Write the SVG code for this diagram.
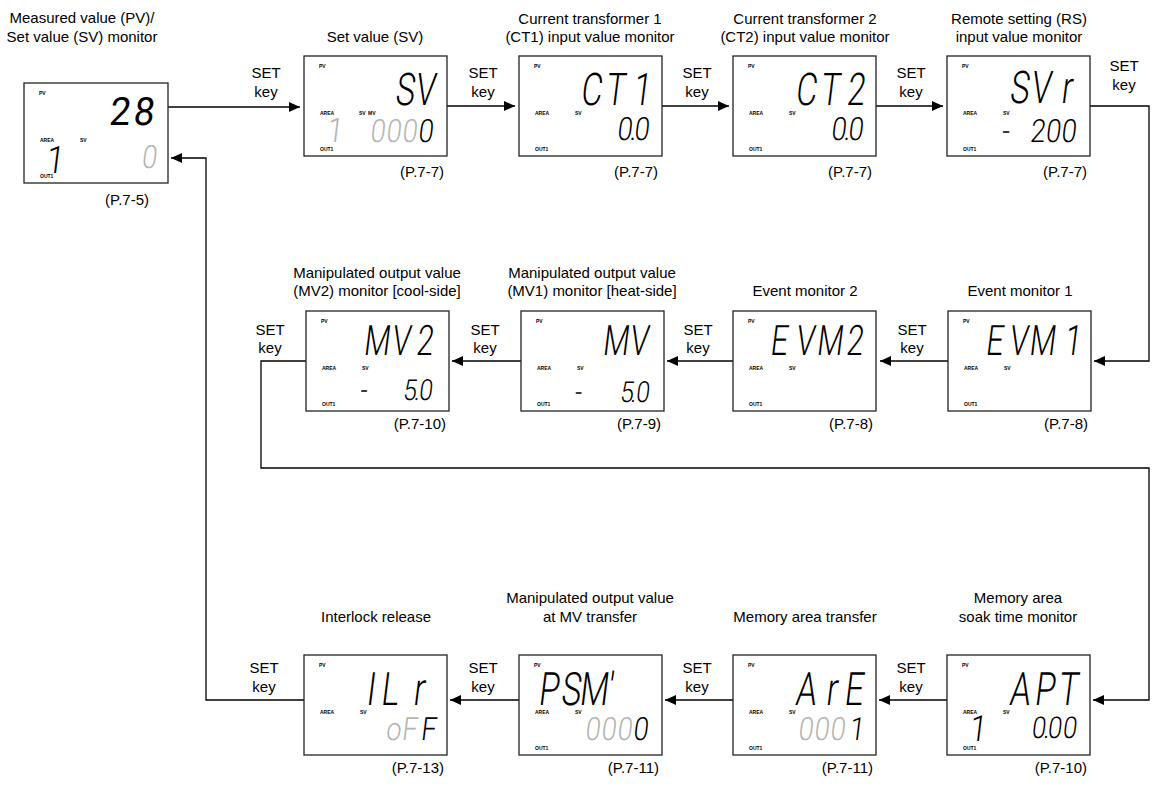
<svg xmlns="http://www.w3.org/2000/svg" width="1154" height="785" viewBox="0 0 1154 785">
<style>
.t{font-family:"Liberation Sans",Arial,sans-serif;font-size:15px;fill:#000}
.m{text-anchor:middle}
.e{text-anchor:end}
.lab{font-family:"Liberation Sans",Arial,sans-serif;font-size:5px;font-weight:bold;fill:#000}
.seg{font-family:Roboto,"DejaVu Sans",sans-serif;font-weight:300;fill:#000;text-anchor:middle}
.up{font-size:45px}
.lo{font-size:32px}
.gr{fill:#b4b4b4}
.box{fill:#fff;stroke:#222;stroke-width:1.3}
.conn{fill:none;stroke:#000;stroke-width:1.3}
</style>
<defs>
<marker id="ah" markerUnits="userSpaceOnUse" markerWidth="12" markerHeight="10" refX="11" refY="5" orient="auto">
<path d="M0,0 L11,5 L0,10 z" fill="#000"/>
</marker>
</defs>
<rect width="1154" height="785" fill="#fff"/>

<g id="connectors">
<path class="conn" marker-end="url(#ah)" d="M168,107 H300"/>
<path class="conn" marker-end="url(#ah)" d="M447,106 H515"/>
<path class="conn" marker-end="url(#ah)" d="M662,106 H729"/>
<path class="conn" marker-end="url(#ah)" d="M876,106 H943"/>
<path class="conn" marker-end="url(#ah)" d="M1090,106 H1149 V361 H1094"/>
<path class="conn" marker-end="url(#ah)" d="M948,361 H880"/>
<path class="conn" marker-end="url(#ah)" d="M733,361 H667"/>
<path class="conn" marker-end="url(#ah)" d="M521,361 H452"/>
<path class="conn" marker-end="url(#ah)" d="M306,361 H261 V468 H1149 V700 H1093"/>
<path class="conn" marker-end="url(#ah)" d="M947,700 H879"/>
<path class="conn" marker-end="url(#ah)" d="M733,700 H665"/>
<path class="conn" marker-end="url(#ah)" d="M519,700 H450"/>
<path class="conn" marker-end="url(#ah)" d="M304,700 H206 V158 H171"/>
<text class="t m" x="266" y="78">SET</text><text class="t m" x="266" y="97">key</text>
<text class="t m" x="483" y="78">SET</text><text class="t m" x="483" y="97">key</text>
<text class="t m" x="697" y="78">SET</text><text class="t m" x="697" y="97">key</text>
<text class="t m" x="911" y="78">SET</text><text class="t m" x="911" y="97">key</text>
<text class="t m" x="1124" y="71">SET</text><text class="t m" x="1124" y="90">key</text>
<text class="t m" x="912" y="335">SET</text><text class="t m" x="912" y="353">key</text>
<text class="t m" x="698" y="335">SET</text><text class="t m" x="698" y="353">key</text>
<text class="t m" x="485" y="335">SET</text><text class="t m" x="485" y="353">key</text>
<text class="t m" x="270" y="335">SET</text><text class="t m" x="270" y="353">key</text>
<text class="t m" x="911" y="673">SET</text><text class="t m" x="911" y="692">key</text>
<text class="t m" x="697" y="673">SET</text><text class="t m" x="697" y="692">key</text>
<text class="t m" x="483" y="673">SET</text><text class="t m" x="483" y="692">key</text>
<text class="t m" x="264" y="673">SET</text><text class="t m" x="264" y="692">key</text>
</g>

<g id="n-pv-sv">
<text class="t m" x="82" y="23">Measured value (PV)/</text>
<text class="t m" x="82" y="42">Set value (SV) monitor</text>
<text class="t e" x="149" y="205">(P.7-5)</text>
<g transform="translate(24,83)">
<rect class="box" width="144" height="100"/>
<text class="lab" x="15" y="12">PV</text><text class="lab" x="16" y="59">AREA</text><text class="lab" x="56" y="59">SV</text><text class="lab" x="16" y="95">OUT1</text>
<text class="seg" style="font-size:39px;font-weight:400" transform="translate(0,42) skewX(-7) scale(0.95,1)" x="100 125.3">28</text>
<text class="seg" style="font-size:38px" transform="translate(0,90) skewX(-7) scale(0.85,1)" x="35.3">1</text>
<text class="seg lo gr" transform="translate(0,85) skewX(-7) scale(0.85,1)" x="146.5">0</text>
</g>
</g>

<g id="n-sv">
<text class="t m" x="375" y="42">Set value (SV)</text>
<text class="t e" x="444" y="177">(P.7-7)</text>
<g transform="translate(304,56)">
<rect class="box" width="143" height="100"/>
<text class="lab" x="15" y="12">PV</text><text class="lab" x="16" y="59">AREA</text><text class="lab" x="55" y="59">SV</text><text class="lab" x="64" y="59">MV</text><text class="lab" x="16" y="95">OUT1</text>
<text class="seg up" transform="translate(0,49) skewX(-7) scale(0.72,1)" x="139 167">SV</text>
<text class="seg lo gr" style="font-size:34px" transform="translate(0,86) skewX(-7) scale(0.85,1)" x="35.3">1</text>
<text class="seg lo" transform="translate(0,86) skewX(-7) scale(0.85,1)"><tspan class="gr" x="85.9 104.7 123.5">000</tspan><tspan x="142.4">0</tspan></text>
</g>
</g>

<g id="n-ct1">
<text class="t m" x="590" y="24">Current transformer 1</text>
<text class="t m" x="590" y="42">(CT1) input value monitor</text>
<text class="t e" x="658" y="177">(P.7-7)</text>
<g transform="translate(519,56)">
<rect class="box" width="143" height="100"/>
<text class="lab" x="15" y="12">PV</text><text class="lab" x="16" y="59">AREA</text><text class="lab" x="56" y="59">SV</text><text class="lab" x="16" y="95">OUT1</text>
<text class="seg up" transform="translate(0,49) skewX(-7) scale(0.72,1)" x="99.5 132.5 169.4">CT1</text>
<text class="seg lo" transform="translate(0,84) skewX(-7) scale(0.85,1)" x="123.5 133.5 143.5">0.0</text>
</g>
</g>

<g id="n-ct2">
<text class="t m" x="805" y="24">Current transformer 2</text>
<text class="t m" x="805" y="42">(CT2) input value monitor</text>
<text class="t e" x="872" y="177">(P.7-7)</text>
<g transform="translate(733,56)">
<rect class="box" width="143" height="100"/>
<text class="lab" x="15" y="12">PV</text><text class="lab" x="16" y="59">AREA</text><text class="lab" x="56" y="59">SV</text><text class="lab" x="16" y="95">OUT1</text>
<text class="seg up" transform="translate(0,49) skewX(-7) scale(0.72,1)" x="100.5 133.5 169.4">CT2</text>
<text class="seg lo" transform="translate(0,84) skewX(-7) scale(0.85,1)" x="123.5 133.5 143.5">0.0</text>
</g>
</g>

<g id="n-rs">
<text class="t m" x="1019" y="24">Remote setting (RS)</text>
<text class="t m" x="1019" y="42">input value monitor</text>
<text class="t e" x="1087" y="177">(P.7-7)</text>
<g transform="translate(947,56)">
<rect class="box" width="143" height="100"/>
<text class="lab" x="15" y="12">PV</text><text class="lab" x="16" y="59">AREA</text><text class="lab" x="56" y="59">SV</text><text class="lab" x="16" y="95">OUT1</text>
<text class="seg up" transform="translate(0,47) skewX(-7) scale(0.72,1)" x="99.3 129.2 165.3">SVr</text>
<text class="seg lo" transform="translate(0,86) skewX(-7) scale(0.85,1)" x="68.2 82.4 105.9 124.1 142.4">- 200</text>
</g>
</g>

<g id="n-ev1">
<text class="t m" x="1020" y="296">Event monitor 1</text>
<text class="t e" x="1088" y="429">(P.7-8)</text>
<g transform="translate(948,311)">
<rect class="box" width="143" height="100"/>
<text class="lab" x="15" y="12">PV</text><text class="lab" x="16" y="59">AREA</text><text class="lab" x="56" y="59">SV</text><text class="lab" x="16" y="95">OUT1</text>
<text class="seg up" style="font-size:42px" transform="translate(0,44) skewX(-7) scale(0.72,1)" x="63.2 96.5 129.9 172.2">EVM1</text>
</g>
</g>

<g id="n-ev2">
<text class="t m" x="805" y="296">Event monitor 2</text>
<text class="t e" x="873" y="429">(P.7-8)</text>
<g transform="translate(733,311)">
<rect class="box" width="143" height="100"/>
<text class="lab" x="15" y="12">PV</text><text class="lab" x="16" y="59">AREA</text><text class="lab" x="56" y="59">SV</text><text class="lab" x="16" y="95">OUT1</text>
<text class="seg up" style="font-size:42px" transform="translate(0,44) skewX(-7) scale(0.72,1)" x="62.5 98.6 133.3 168">EVM2</text>
</g>
</g>

<g id="n-mv1">
<text class="t m" x="592" y="278">Manipulated output value</text>
<text class="t m" x="592" y="296">(MV1) monitor [heat-side]</text>
<text class="t e" x="661" y="429">(P.7-9)</text>
<g transform="translate(521,311)">
<rect class="box" width="143" height="100"/>
<text class="lab" x="15" y="12">PV</text><text class="lab" x="16" y="59">AREA</text><text class="lab" x="56" y="59">SV</text><text class="lab" x="16" y="95">OUT1</text>
<text class="seg up" style="font-size:42px" transform="translate(0,44) skewX(-7) scale(0.72,1)" x="130.6 162.5">MV</text>
<text class="seg" style="font-size:29px" transform="translate(0,91) skewX(-7) scale(0.85,1)" x="66.5 82.4 123.5 131.8 142.4">- 5.0</text>
</g>
</g>

<g id="n-mv2">
<text class="t m" x="377" y="278">Manipulated output value</text>
<text class="t m" x="377" y="296">(MV2) monitor [cool-side]</text>
<text class="t e" x="446" y="429">(P.7-10)</text>
<g transform="translate(306,311)">
<rect class="box" width="143" height="100"/>
<text class="lab" x="15" y="12">PV</text><text class="lab" x="16" y="59">AREA</text><text class="lab" x="56" y="59">SV</text><text class="lab" x="16" y="95">OUT1</text>
<text class="seg up" style="font-size:42px" transform="translate(0,44) skewX(-7) scale(0.72,1)" x="97.2 130.6 163.9">MV2</text>
<text class="seg" style="font-size:29px" transform="translate(0,89) skewX(-7) scale(0.85,1)" x="67.1 82.4 121.2 130 140">- 5.0</text>
</g>
</g>

<g id="n-apt">
<text class="t m" x="1018" y="603">Memory area</text>
<text class="t m" x="1018" y="622">soak time monitor</text>
<text class="t e" x="1087" y="773">(P.7-10)</text>
<g transform="translate(947,655)">
<rect class="box" width="143" height="100"/>
<text class="lab" x="15" y="12">PV</text><text class="lab" x="16" y="59">AREA</text><text class="lab" x="56" y="59">SV</text><text class="lab" x="16" y="95">OUT1</text>
<text class="seg up" style="font-size:46px" transform="translate(0,50) skewX(-7) scale(0.72,1)" x="100 134.7 166.7">APT</text>
<text class="seg" style="font-size:36px" transform="translate(0,86) skewX(-7) scale(0.85,1)" x="35.3">1</text>
<text class="seg" style="font-size:30px" transform="translate(0,83) skewX(-7) scale(0.85,1)" x="107.1 116.5 125.9 143.5">0.00</text>
</g>
</g>

<g id="n-are">
<text class="t m" x="805" y="622">Memory area transfer</text>
<text class="t e" x="873" y="773">(P.7-11)</text>
<g transform="translate(733,655)">
<rect class="box" width="143" height="100"/>
<text class="lab" x="15" y="12">PV</text><text class="lab" x="16" y="59">AREA</text><text class="lab" x="56" y="59">SV</text><text class="lab" x="16" y="95">OUT1</text>
<text class="seg up" style="font-size:46px" transform="translate(0,50) skewX(-7) scale(0.72,1)" x="100 136 166.7">ArE</text>
<text class="seg lo" transform="translate(0,85) skewX(-7) scale(0.85,1)"><tspan class="gr" x="84.7 103.5 122.4">000</tspan><tspan x="144.7">1</tspan></text>
</g>
</g>

<g id="n-psm">
<text class="t m" x="590" y="603">Manipulated output value</text>
<text class="t m" x="590" y="622">at MV transfer</text>
<text class="t e" x="659" y="773">(P.7-11)</text>
<g transform="translate(519,655)">
<rect class="box" width="143" height="100"/>
<text class="lab" x="15" y="12">PV</text><text class="lab" x="16" y="59">AREA</text><text class="lab" x="56" y="59">SV</text><text class="lab" x="16" y="95">OUT1</text>
<text class="seg up" style="font-size:46px" transform="translate(0,50) skewX(-7) scale(0.72,1)" x="40.3 70.8 102.8 125">PSM'</text>
<text class="seg lo" transform="translate(0,85) skewX(-7) scale(0.85,1)"><tspan class="gr" x="85.9 104.7 123.5">000</tspan><tspan x="142.4">0</tspan></text>
</g>
</g>

<g id="n-ilr">
<text class="t m" x="376" y="622">Interlock release</text>
<text class="t e" x="444" y="773">(P.7-13)</text>
<g transform="translate(304,655)">
<rect class="box" width="143" height="100"/>
<text class="lab" x="15" y="12">PV</text><text class="lab" x="16" y="59">AREA</text><text class="lab" x="56" y="59">SV</text>
<text class="seg up" style="font-size:46px" transform="translate(0,50) skewX(-7) scale(0.72,1)" x="91.7 118 158.3">ILr</text>
<text class="seg lo" transform="translate(0,85) skewX(-7) scale(0.85,1)"><tspan class="gr" x="104.7 123.5">oF</tspan><tspan x="145.9">F</tspan></text>
</g>
</g>
</svg>
